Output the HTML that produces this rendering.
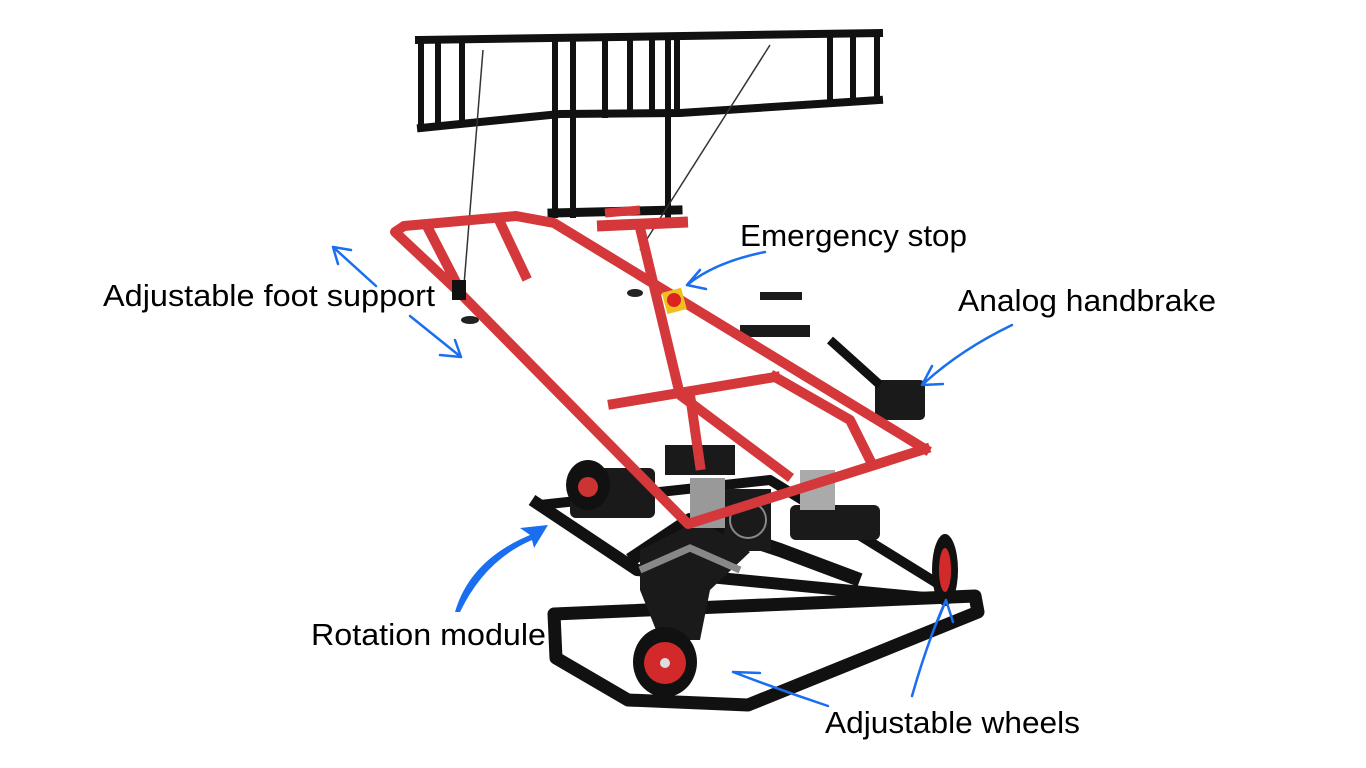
<!DOCTYPE html>
<html><head><meta charset="utf-8"><style>
html,body{margin:0;padding:0;background:#fff;width:1366px;height:768px;overflow:hidden}
svg{position:absolute;left:0;top:0}
text{font-family:"Liberation Sans",sans-serif;font-size:31px;fill:#000}
</style></head><body>
<svg width="1366" height="768" viewBox="0 0 1366 768">
<!-- black ladder -->
<g stroke="#111" fill="none" stroke-linecap="square">
<path d="M419 40 L879 33" stroke-width="8"/>
<path d="M421 128 L500 120 L560 114 L680 113 L879 100" stroke-width="8"/>
<path d="M421 40 L421 128 M438 40 L438 126 M462 40 L462 122 M555 38 L555 215 M573 38 L573 215 M605 38 L605 115 M630 37 L630 114 M652 37 L652 114 M668 37 L668 215 M677 37 L677 113 M830 34 L830 102 M853 33 L853 101 M877 33 L877 100" stroke-width="6"/>
<path d="M552 213 L678 210" stroke-width="9"/>
</g>
<path d="M483 50 L464 285 M770 45 L640 250" stroke="#333" stroke-width="1.5"/>
<!-- black base -->
<g stroke="#111" fill="none" stroke-linejoin="round">
<path d="M554 614 L975 596 L978 612 L748 705 L628 700 L556 658 Z" stroke-width="13"/>
<path d="M532 500 L637 570 L925 598" stroke-width="12"/>
<path d="M540 505 L770 480 L940 585" stroke-width="10"/>
<path d="M630 560 L690 520 L780 550 L860 580" stroke-width="14"/>
</g>
<g fill="#1a1a1a">
<rect x="570" y="468" width="85" height="50" rx="6"/>
<rect x="724" y="489" width="47" height="62"/>
<rect x="790" y="505" width="90" height="35" rx="6"/>
<path d="M640 550 L700 520 L750 552 L710 590 L700 640 L660 640 L640 590 Z"/>
<rect x="665" y="445" width="70" height="30"/>
<rect x="875" y="380" width="50" height="40" rx="5"/>
<rect x="740" y="325" width="70" height="12"/>
<rect x="760" y="292" width="42" height="8"/>
<path d="M830 340 L880 385" stroke="#111" stroke-width="9"/>
</g>
<circle cx="748" cy="520" r="18" fill="none" stroke="#888" stroke-width="2"/>
<rect x="690" y="478" width="35" height="50" fill="#999"/>
<rect x="800" y="470" width="35" height="40" fill="#aaa"/>
<path d="M640 570 L690 548 L740 570" stroke="#888" stroke-width="7" fill="none"/>
<!-- wheels -->
<ellipse cx="588" cy="485" rx="22" ry="25" fill="#111"/>
<circle cx="588" cy="487" r="10" fill="#c33"/>
<ellipse cx="665" cy="662" rx="32" ry="35" fill="#111"/>
<circle cx="665" cy="663" r="21" fill="#d22a2a"/>
<circle cx="665" cy="663" r="5" fill="#ddd"/>
<ellipse cx="945" cy="570" rx="13" ry="36" fill="#111"/>
<ellipse cx="945" cy="570" rx="6" ry="22" fill="#d22a2a"/>
<!-- red frame -->
<g stroke="#d4383b" fill="none" stroke-width="10" stroke-linecap="square" stroke-linejoin="round">
<path d="M459 292 L395 232 L404 226 L516 216 L554 223 L925 449"/>
<path d="M459 292 L688 524 L925 449"/>
<path d="M428 228 L459 288 M499 220 L525 275"/>
<path d="M613 404 L775 377"/>
<path d="M641 232 L680 395 L787 475"/>
<path d="M690 395 L700 465"/>
<path d="M775 377 L850 420 L870 460"/>
</g>
<path d="M597 226 L688 222" stroke="#d4383b" stroke-width="11"/>
<path d="M605 213 L640 210" stroke="#d4383b" stroke-width="9"/>
<rect x="664" y="290" width="20" height="22" fill="#f0c020" transform="rotate(-15 674 300)"/>
<circle cx="674" cy="300" r="7" fill="#d22"/>
<rect x="452" y="280" width="14" height="20" fill="#111"/>
<ellipse cx="470" cy="320" rx="9" ry="4" fill="#222"/>
<ellipse cx="635" cy="293" rx="8" ry="4" fill="#222"/>
<!-- labels -->
<text x="740" y="246" textLength="227" lengthAdjust="spacingAndGlyphs">Emergency stop</text>
<text x="958" y="311" textLength="258" lengthAdjust="spacingAndGlyphs">Analog handbrake</text>
<text x="103" y="306" textLength="332" lengthAdjust="spacingAndGlyphs">Adjustable foot support</text>
<text x="311" y="645" textLength="235" lengthAdjust="spacingAndGlyphs">Rotation module</text>
<text x="825" y="733" textLength="255" lengthAdjust="spacingAndGlyphs">Adjustable wheels</text>
<!-- blue arrows -->
<g stroke="#1a6ef0" fill="none" stroke-width="2.5" stroke-linecap="round">
<path d="M376 286 L333 247 M333 247 L351 250 M333 247 L338 264"/>
<path d="M410 316 L461 357 M461 357 L440 355 M461 357 L455 340"/>
<path d="M765 252 Q715 262 687 285 M687 285 L700 270 M687 285 L706 289"/>
<path d="M1012 325 Q960 350 922 385 M922 385 L932 366 M922 385 L943 384"/>
<path d="M828 706 Q780 690 733 672 M733 672 L760 673"/>
<path d="M912 696 Q928 640 946 600 M946 600 L938 620 M946 600 L953 622"/>
</g>
<path d="M455 612 Q470 560 530 535 L520 528 L548 525 L534 548 L532 540 Q485 560 460 612 Z" fill="#1a6ef0"/>
</svg>
</body></html>
